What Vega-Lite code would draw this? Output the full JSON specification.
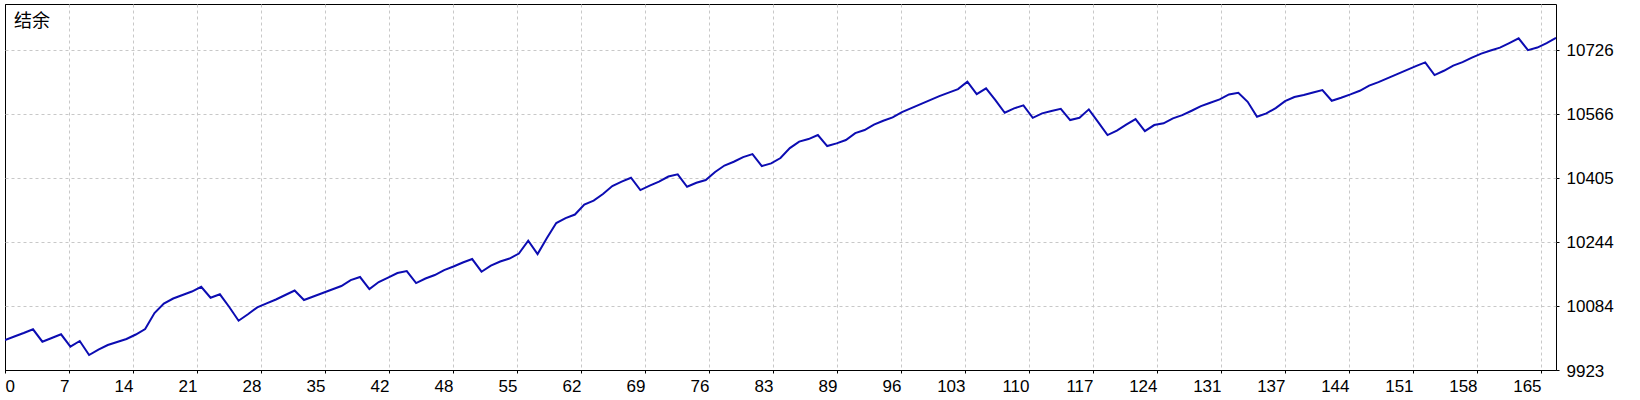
{
  "$schema": "https://vega.github.io/schema/vega-lite/v6.json",
  "width": 1551,
  "height": 366,
  "padding": {"left": 4, "top": 4, "right": 0, "bottom": 0},
  "autosize": {"type": "pad"},
  "background": "white",
  "config": {
    "view": {"stroke": "#000", "strokeWidth": 1},
    "axis": {
      "labelFont": "Liberation Sans",
      "labelFontSize": 17,
      "labelColor": "#000",
      "tickColor": "#000",
      "tickSize": 3,
      "domain": false,
      "gridColor": "#c8c8c8",
      "gridDash": [3, 3],
      "gridWidth": 1,
      "title": null
    }
  },
  "layer": [
    {
      "data": {
        "values": [
          {"n": 0, "balance": 9998.3}, {"n": 1, "balance": 10007.1}, {"n": 2, "balance": 10015.8},
          {"n": 3, "balance": 10025.1}, {"n": 4, "balance": 9994.0}, {"n": 5, "balance": 10003.3},
          {"n": 6, "balance": 10012.6}, {"n": 7, "balance": 9981.5}, {"n": 8, "balance": 9995.8},
          {"n": 9, "balance": 9960.6}, {"n": 10, "balance": 9974.4}, {"n": 11, "balance": 9985.7},
          {"n": 12, "balance": 9993.3}, {"n": 13, "balance": 10000.8}, {"n": 14, "balance": 10012.1},
          {"n": 15, "balance": 10025.9}, {"n": 16, "balance": 10066.0}, {"n": 17, "balance": 10089.9},
          {"n": 18, "balance": 10102.4}, {"n": 19, "balance": 10111.2}, {"n": 20, "balance": 10120.0},
          {"n": 21, "balance": 10132.0}, {"n": 22, "balance": 10104.4}, {"n": 23, "balance": 10113.0},
          {"n": 24, "balance": 10081.1}, {"n": 25, "balance": 10046.7}, {"n": 26, "balance": 10062.8},
          {"n": 27, "balance": 10080.3}, {"n": 28, "balance": 10090.4}, {"n": 29, "balance": 10099.9},
          {"n": 30, "balance": 10111.2}, {"n": 31, "balance": 10122.5}, {"n": 32, "balance": 10098.7},
          {"n": 33, "balance": 10107.4}, {"n": 34, "balance": 10116.2}, {"n": 35, "balance": 10125.0},
          {"n": 36, "balance": 10133.8}, {"n": 37, "balance": 10148.8}, {"n": 38, "balance": 10156.4},
          {"n": 39, "balance": 10126.3}, {"n": 40, "balance": 10143.8}, {"n": 41, "balance": 10155.1},
          {"n": 42, "balance": 10166.4}, {"n": 43, "balance": 10171.4}, {"n": 44, "balance": 10141.3},
          {"n": 45, "balance": 10152.6}, {"n": 46, "balance": 10161.4}, {"n": 47, "balance": 10173.9},
          {"n": 48, "balance": 10182.7}, {"n": 49, "balance": 10192.8}, {"n": 50, "balance": 10201.5},
          {"n": 51, "balance": 10169.7}, {"n": 52, "balance": 10185.2}, {"n": 53, "balance": 10195.3},
          {"n": 54, "balance": 10202.8}, {"n": 55, "balance": 10215.3}, {"n": 56, "balance": 10247.5},
          {"n": 57, "balance": 10214.1}, {"n": 58, "balance": 10254.2}, {"n": 59, "balance": 10291.9},
          {"n": 60, "balance": 10304.4}, {"n": 61, "balance": 10313.2}, {"n": 62, "balance": 10338.3},
          {"n": 63, "balance": 10348.3}, {"n": 64, "balance": 10364.7}, {"n": 65, "balance": 10384.7},
          {"n": 66, "balance": 10396.0}, {"n": 67, "balance": 10405.6}, {"n": 68, "balance": 10374.7},
          {"n": 69, "balance": 10386.0}, {"n": 70, "balance": 10396.0}, {"n": 71, "balance": 10408.6},
          {"n": 72, "balance": 10414.1}, {"n": 73, "balance": 10383.0}, {"n": 74, "balance": 10393.0},
          {"n": 75, "balance": 10399.8}, {"n": 76, "balance": 10419.9}, {"n": 77, "balance": 10436.2},
          {"n": 78, "balance": 10445.7}, {"n": 79, "balance": 10457.5}, {"n": 80, "balance": 10465.0},
          {"n": 81, "balance": 10434.9}, {"n": 82, "balance": 10441.7}, {"n": 83, "balance": 10455.0},
          {"n": 84, "balance": 10480.1}, {"n": 85, "balance": 10496.4}, {"n": 86, "balance": 10502.7},
          {"n": 87, "balance": 10512.7}, {"n": 88, "balance": 10485.1}, {"n": 89, "balance": 10491.9},
          {"n": 90, "balance": 10500.2}, {"n": 91, "balance": 10517.7}, {"n": 92, "balance": 10525.3},
          {"n": 93, "balance": 10539.1}, {"n": 94, "balance": 10548.6}, {"n": 95, "balance": 10557.1},
          {"n": 96, "balance": 10570.4}, {"n": 97, "balance": 10580.5}, {"n": 98, "balance": 10590.5},
          {"n": 99, "balance": 10600.5}, {"n": 100, "balance": 10610.6}, {"n": 101, "balance": 10619.4},
          {"n": 102, "balance": 10628.1}, {"n": 103, "balance": 10646.5}, {"n": 104, "balance": 10615.6},
          {"n": 105, "balance": 10629.9}, {"n": 106, "balance": 10600.5}, {"n": 107, "balance": 10568.7},
          {"n": 108, "balance": 10579.7}, {"n": 109, "balance": 10587.2}, {"n": 110, "balance": 10556.1},
          {"n": 111, "balance": 10567.2}, {"n": 112, "balance": 10572.9}, {"n": 113, "balance": 10578.7},
          {"n": 114, "balance": 10550.4}, {"n": 115, "balance": 10556.1}, {"n": 116, "balance": 10577.2},
          {"n": 117, "balance": 10545.3}, {"n": 118, "balance": 10512.7}, {"n": 119, "balance": 10524.0},
          {"n": 120, "balance": 10539.1}, {"n": 121, "balance": 10552.9}, {"n": 122, "balance": 10522.7},
          {"n": 123, "balance": 10537.8}, {"n": 124, "balance": 10542.1}, {"n": 125, "balance": 10554.6},
          {"n": 126, "balance": 10562.9}, {"n": 127, "balance": 10573.7}, {"n": 128, "balance": 10585.5},
          {"n": 129, "balance": 10593.8}, {"n": 130, "balance": 10602.3}, {"n": 131, "balance": 10614.8},
          {"n": 132, "balance": 10618.9}, {"n": 133, "balance": 10596.3}, {"n": 134, "balance": 10558.6},
          {"n": 135, "balance": 10567.2}, {"n": 136, "balance": 10580.5}, {"n": 137, "balance": 10598.0},
          {"n": 138, "balance": 10608.1}, {"n": 139, "balance": 10613.1}, {"n": 140, "balance": 10619.4},
          {"n": 141, "balance": 10625.6}, {"n": 142, "balance": 10598.8}, {"n": 143, "balance": 10606.3},
          {"n": 144, "balance": 10614.8}, {"n": 145, "balance": 10623.9}, {"n": 146, "balance": 10636.9},
          {"n": 147, "balance": 10645.7}, {"n": 148, "balance": 10655.7}, {"n": 149, "balance": 10665.8},
          {"n": 150, "balance": 10675.8}, {"n": 151, "balance": 10685.9}, {"n": 152, "balance": 10695.1},
          {"n": 153, "balance": 10663.3}, {"n": 154, "balance": 10674.1}, {"n": 155, "balance": 10687.1},
          {"n": 156, "balance": 10695.9}, {"n": 157, "balance": 10707.2}, {"n": 158, "balance": 10717.2},
          {"n": 159, "balance": 10724.8}, {"n": 160, "balance": 10732.3}, {"n": 161, "balance": 10743.6},
          {"n": 162, "balance": 10755.4}, {"n": 163, "balance": 10726.0}, {"n": 164, "balance": 10732.3},
          {"n": 165, "balance": 10743.6}, {"n": 166, "balance": 10756.9}
        ]
      },
      "mark": {"type": "line", "color": "#0c0cb2", "strokeWidth": 2, "clip": true},
      "encoding": {
        "x": {
          "field": "n",
          "type": "quantitative",
          "scale": {"domain": [0, 166], "nice": false, "zero": false},
          "axis": {
            "orient": "bottom",
            "values": [0, 6.85, 13.7, 20.55, 27.4, 34.25, 41.1, 47.95, 54.8, 61.65, 68.5, 75.35, 82.2, 89.05, 95.9, 102.75, 109.6, 116.45, 123.3, 130.15, 137, 143.85, 150.7, 157.55, 164.4],
            "labelExpr": "['0','7','14','21','28','35','42','48','55','62','69','76','83','89','96','103','110','117','124','131','137','144','151','158','165'][round(datum.value / 6.85)]",
            "labelAlign": {"condition": {"test": "datum.value === 0", "value": "left"}, "value": "right"},
            "labelBaseline": "top",
            "labelPadding": 5,
            "labelOverlap": false,
            "gridColor": {"condition": {"test": "datum.value === 0", "value": "#000"}, "value": "#c8c8c8"},
            "gridDash": {"condition": {"test": "datum.value === 0", "value": []}, "value": [3, 3]}
          }
        },
        "y": {
          "field": "balance",
          "type": "quantitative",
          "scale": {"domain": [9923, 10841.7], "nice": false, "zero": false},
          "axis": {
            "orient": "right",
            "values": [9923, 10083.65, 10244.3, 10404.95, 10565.6, 10726.25],
            "format": ".0f",
            "labelBaseline": "middle",
            "labelOffset": 1,
            "labelPadding": 7,
            "labelOverlap": false,
            "gridColor": {"condition": {"test": "datum.value === 9923", "value": "#000"}, "value": "#c8c8c8"},
            "gridDash": {"condition": {"test": "datum.value === 9923", "value": []}, "value": [3, 3]}
          }
        }
      }
    },
    {
      "data": {"values": [{"label": "结余", "n": 0, "balance": 10841.7}]},
      "mark": {
        "type": "text",
        "align": "left",
        "baseline": "top",
        "dx": 9,
        "dy": 9,
        "font": "Noto Sans CJK SC",
        "fontSize": 18,
        "color": "#000"
      },
      "encoding": {
        "x": {"field": "n", "type": "quantitative"},
        "y": {"field": "balance", "type": "quantitative"},
        "text": {"field": "label"}
      }
    }
  ]
}
